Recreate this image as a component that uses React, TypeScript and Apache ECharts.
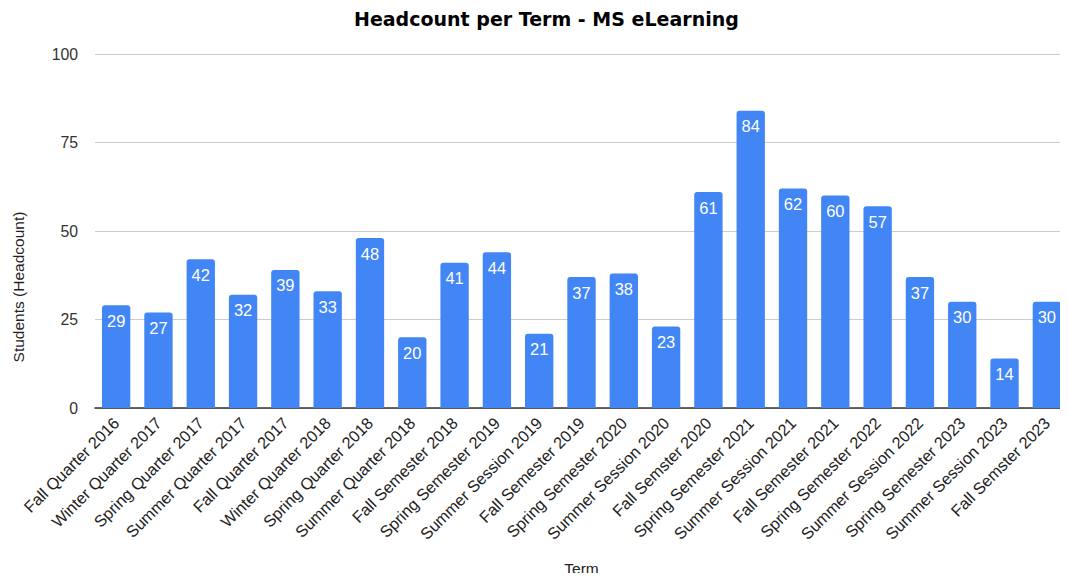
import React, { useEffect, useRef } from "react";
import * as echarts from "echarts";

const categories = [
  "Fall Quarter 2016", "Winter Quarter 2017", "Spring Quarter 2017", "Summer Quarter 2017",
  "Fall Quarter 2017", "Winter Quarter 2018", "Spring Quarter 2018", "Summer Quarter 2018",
  "Fall Semester 2018", "Spring Semester 2019", "Summer Session 2019", "Fall Semester 2019",
  "Spring Semester 2020", "Summer Session 2020", "Fall Semster 2020", "Spring Semester 2021",
  "Summer Session 2021", "Fall Semester 2021", "Spring Semester 2022", "Summer Session 2022",
  "Spring Semester 2023", "Summer Session 2023", "Fall Semster 2023",
];
const headcount = [29, 27, 42, 32, 39, 33, 48, 20, 41, 44, 21, 37, 38, 23, 61, 84, 62, 60, 57, 37, 30, 14, 30];
const yTicks = [0, 25, 50, 75, 100];

export default function App() {
  const ref = useRef<HTMLDivElement>(null);
  useEffect(() => {
    if (!ref.current) return;
    const chart = echarts.init(ref.current, null, { renderer: "svg" });
    const font = "'Liberation Sans', Arial, sans-serif";
    chart.setOption({
      animation: false,
      title: {
        text: "Headcount per Term - MS eLearning",
        left: 349,
        top: 4,
        textStyle: { fontFamily: "'DejaVu Sans', sans-serif", fontWeight: 900, fontSize: 19, color: "#000" },
      },
      graphic: [
        {
          type: "text",
          x: 18,
          y: 287,
          rotation: Math.PI / 2,
          style: {
            text: "Students (Headcount)",
            font: `15.5px ${font}`,
            fill: "#222",
            align: "center",
            verticalAlign: "middle",
          },
        },
      ],
      grid: { left: 95, right: -2, top: 54, bottom: 172, containLabel: false },
      xAxis: {
        type: "category",
        data: categories,
        name: "Term",
        nameLocation: "middle",
        nameGap: 152,
        nameTextStyle: { fontFamily: font, fontSize: 15.5, color: "#222" },
        axisLine: { lineStyle: { color: "#333", width: 1.5 } },
        axisTick: { show: false },
        axisLabel: {
          interval: 0,
          rotate: 45,
          fontFamily: font,
          fontSize: 16.3,
          color: "#222",
          margin: 12,
        },
      },
      yAxis: {
        type: "value",
        min: yTicks[0],
        max: yTicks[yTicks.length - 1],
        interval: 25,
        axisLine: { show: false },
        axisTick: { show: false },
        axisLabel: { fontFamily: font, fontSize: 15.8, color: "#333", margin: 17 },
        splitLine: { lineStyle: { color: "#cccccc", width: 1 } },
      },
      series: [
        {
          type: "bar",
          data: headcount,
          barCategoryGap: "33%",
          itemStyle: { color: "#4285f4", borderRadius: [3, 3, 0, 0] },
          label: {
            show: true,
            position: "insideTop",
            distance: 7,
            color: "#fff",
            fontFamily: font,
            fontSize: 16.5,
          },
        },
      ],
    });
    return () => chart.dispose();
  }, []);
  return <div ref={ref} style={{ width: 1068, height: 581, margin: -8 }} />;
}
